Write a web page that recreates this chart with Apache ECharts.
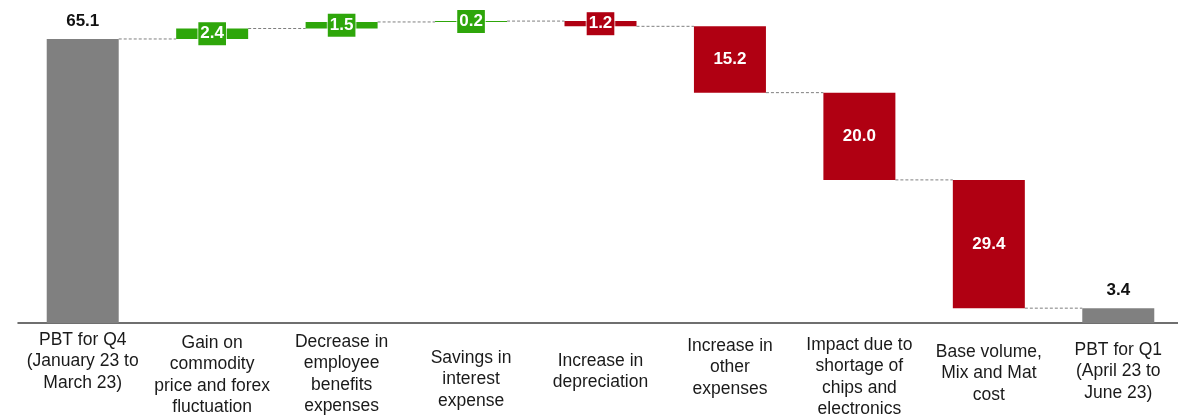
<!DOCTYPE html>
<html>
<head>
<meta charset="utf-8">
<script src="https://cdn.jsdelivr.net/npm/echarts@6/dist/echarts.min.js"></script>
<style>
  html, body { margin: 0; padding: 0; background: #fff; }
  #chart-container { width: 1178px; height: 417px; }
</style>
</head>
<body>
<div id="chart-container"></div>
<script>
// categories and bridge steps
var categories = [
  'PBT for Q4\n(January 23 to\nMarch 23)',
  'Gain on\ncommodity\nprice and forex\nfluctuation',
  'Decrease in\nemployee\nbenefits\nexpenses',
  'Savings in\ninterest\nexpense',
  'Increase in\ndepreciation',
  'Increase in\nother\nexpenses',
  'Impact due to\nshortage of\nchips and\nelectronics',
  'Base volume,\nMix and Mat\ncost',
  'PBT for Q1\n(April 23 to\nJune 23)'
];
var changes = [65.1, 2.4, 1.5, 0.2, -1.2, -15.2, -20.0, -29.4, 3.4];
var kinds = ['total', 'up', 'up', 'up', 'down', 'down', 'down', 'down', 'total'];

var colors = { total: '#808080', up: '#2ea60a', down: '#b00012' };
var barW = 72;
// label top offsets (the source text boxes are not aligned)
var labelPad = [2, 5, 4, 20, 23, 8, 7, 14, 12];

// running totals -> invisible base + visible step
var baseData = [], stepData = [], levels = [];
var level = 0;
for (var i = 0; i < changes.length; i++) {
  var v = changes[i];
  var kind = kinds[i];
  var lo, h;
  if (kind === 'total') {
    lo = 0; h = v; level = v;
  } else {
    var start = level, end = level + v;
    lo = Math.min(start, end); h = Math.abs(v); level = end;
  }
  levels.push(level);
  baseData.push(lo);
  var small = kind !== 'total' && h < 5;
  var item = {
    value: h,
    itemStyle: { color: colors[kind] },
    label: kind === 'total'
      ? { position: 'top', distance: 9, color: '#111' }
      : (small
        ? { position: 'inside', color: '#fff', backgroundColor: colors[kind],
            borderColor: 'rgba(255,255,255,0.7)', borderWidth: 1, padding: [4, 2, 2, 2] }
        : { position: 'inside', color: '#fff' })
  };
  stepData.push(item);
}

var connectors = [];
for (var j = 0; j < levels.length - 1; j++) connectors.push([j, levels[j]]);

var chartDom = document.getElementById('chart-container');
var myChart = echarts.init(chartDom);

var option = {
  animation: false,
  textStyle: { fontFamily: 'Liberation Sans, Arial, sans-serif' },
  grid: { left: 18, width: 1165, top: 17.6, bottom: 94, outerBoundsMode: 'none', containLabel: false },
  xAxis: {
    type: 'category',
    data: categories.map(function (c, k) {
      return { value: c, textStyle: { padding: [labelPad[k], 0, 0, 0] } };
    }),
    axisLine: { lineStyle: { color: '#404040', width: 1.5 } },
    axisTick: { show: false },
    axisLabel: {
      interval: 0,
      margin: 4,
      fontSize: 17.5,
      lineHeight: 21.5,
      color: '#1a1a1a',
      fontFamily: 'Liberation Sans, Arial, sans-serif'
    }
  },
  yAxis: {
    type: 'value',
    min: 0,
    max: 70,
    show: false,
    splitLine: { show: false }
  },
  series: [
    {
      type: 'custom',
      z: 1,
      data: connectors,
      renderItem: function (params, api) {
        var idx = api.value(0);
        var y = api.value(1);
        var p1 = api.coord([idx, y]);
        var p2 = api.coord([idx + 1, y]);
        return {
          type: 'line',
          shape: { x1: p1[0] + barW / 2, y1: p1[1], x2: p2[0] - barW / 2, y2: p2[1] },
          style: { stroke: '#7f7f7f', lineWidth: 1, lineDash: [3, 2] }
        };
      }
    },
    {
      type: 'bar',
      stack: 'wf',
      z: 2,
      barWidth: barW,
      itemStyle: { color: 'transparent' },
      data: baseData,
      silent: true
    },
    {
      type: 'bar',
      stack: 'wf',
      z: 3,
      barWidth: barW,
      data: stepData,
      label: {
        show: true,
        fontSize: 17,
        fontWeight: 'bold',
        fontFamily: 'Liberation Sans, Arial, sans-serif',
        formatter: function (p) { return p.value.toFixed(1); }
      }
    }
  ]
};

myChart.setOption(option);

window.addEventListener('resize', function () {
  myChart.resize();
});
</script>
</body>
</html>
